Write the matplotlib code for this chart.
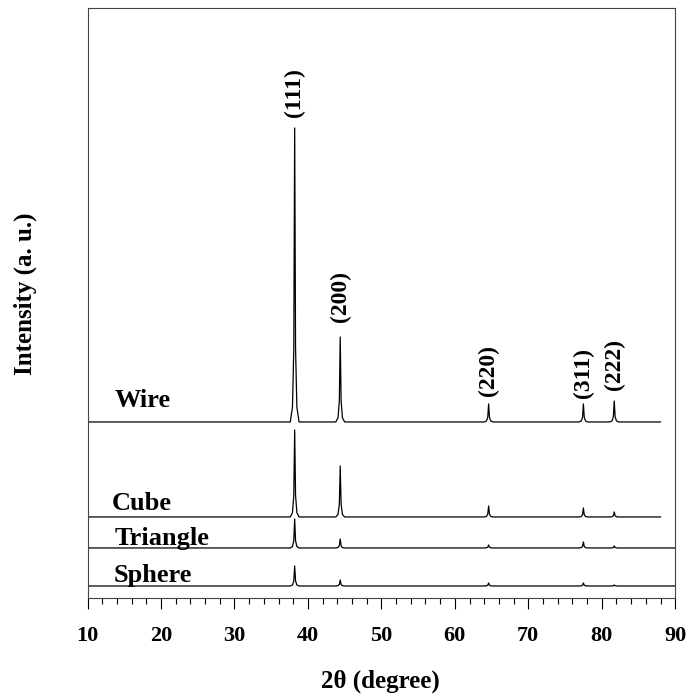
import numpy as np
import matplotlib.pyplot as plt

plt.rcParams['font.family'] = ['Liberation Serif', 'DejaVu Serif']
plt.rcParams['font.weight'] = 'bold'

# peak positions (2theta) and hkl labels
peak_pos = [38.2, 44.4, 64.6, 77.5, 81.7]
hkl = ['(111)', '(200)', '(220)', '(311)', '(222)']

samples = ['Wire', 'Cube', 'Triangle', 'Sphere']
# stacked baseline offset of each pattern (a.u.)
baseline = [176, 81, 50, 12]
x_end = [88, 88, 90, 90]
# peak heights above baseline, same order as peak_pos
wire_h = [294, 85, 18, 18, 21]
cube_h = [87, 51, 11, 9, 5]
triangle_h = [29, 9, 3, 6, 2]
sphere_h = [20, 6, 3, 3, 1]
heights = [wire_h, cube_h, triangle_h, sphere_h]

label_x = [13.75, 13.3, 13.75, 13.5]
label_y = [191, 88, 53, 16]
hkl_gap = [11, 15, 8, 6, 11]

# peak shape template (offset in degrees, fraction of height)
shape_dx = [-0.6, -0.3, -0.12, 0.0, 0.12, 0.3, 0.6]
shape_f = [0.0, 0.05, 0.25, 1.0, 0.25, 0.05, 0.0]

def pattern(base, hts, xmax):
    xs = [10.0]
    ys = [base]
    for p, h in zip(peak_pos, hts):
        for dx, f in zip(shape_dx, shape_f):
            xs.append(p + dx)
            ys.append(base + f * h)
    xs.append(xmax)
    ys.append(base)
    return np.array(xs), np.array(ys)

fig = plt.figure(figsize=(6.89, 6.95), dpi=100)
ax = fig.add_axes([0.127, 0.1396, 0.853, 0.849])

for name, base, hts, xe, lx, ly in zip(samples, baseline, heights, x_end, label_x, label_y):
    x, y = pattern(base, hts, xe)
    ax.plot(x, y, color='black', lw=0.9)
    ax.text(lx, ly, name, fontsize=19, fontweight='bold', ha='left', va='baseline')

for p, h, lab, g in zip(peak_pos, wire_h, hkl, hkl_gap):
    ax.text(p, baseline[0] + h + g, lab, rotation=90, fontsize=17,
            fontweight='bold', ha='center', va='bottom')

ax.set_xlim(10, 90)
ax.set_ylim(0, 590)
ax.set_xticks(np.arange(10, 91, 10))
ax.set_xticks(np.arange(10, 91, 2), minor=True)
ax.set_yticks([])
ax.tick_params(axis='x', which='major', direction='out', length=8, width=0.8, labelsize=16, pad=12.5)
ax.tick_params(axis='x', which='minor', direction='out', length=4.3, width=0.8)
for lbl in ax.get_xticklabels():
    lbl.set_fontweight('bold')
for s in ax.spines.values():
    s.set_linewidth(0.8)
    s.set_color('#444444')

ax.set_xlabel('2θ (degree)', fontsize=18, fontweight='bold')
ax.set_ylabel('Intensity (a. u.)', fontsize=18, fontweight='bold')
# place axis labels in figure pixel coordinates
ax.xaxis.set_label_coords(380 / 689, 1 - 681 / 695, transform=fig.transFigure)
ax.yaxis.set_label_coords(25 / 689, 1 - 294 / 695, transform=fig.transFigure)
ax.xaxis.label.set_va('center')
ax.yaxis.label.set_va('center')

fig.savefig('out.png', dpi=100)
